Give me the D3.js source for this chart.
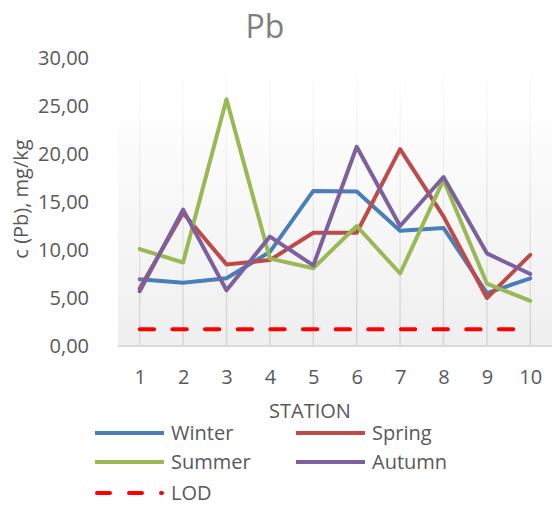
<!DOCTYPE html>
<html><head><meta charset="utf-8">
<script src="https://cdn.jsdelivr.net/npm/d3@7/dist/d3.min.js"></script>
<style>body{margin:0;background:#fff}svg{display:block}text{font-family:"Open Sans",sans-serif}</style>
</head><body><svg id="c" width="558" height="506"></svg>
<script>
const stations = ["1","2","3","4","5","6","7","8","9","10"];
const winter = [6.95, 6.6, 7.05, 9.8, 16.15, 16.1, 12.0, 12.3, 5.5, 7.05];
const spring = [6.0, 13.85, 8.5, 8.95, 11.8, 11.8, 20.5, 13.5, 5.0, 9.5];
const summer = [10.1, 8.7, 25.7, 9.1, 8.1, 12.5, 7.55, 17.3, 6.5, 4.7];
const autumn = [5.7, 14.2, 5.8, 11.4, 8.4, 20.75, 12.5, 17.6, 9.65, 7.5];
const lod = [1.75, 1.75, 1.75, 1.75, 1.75, 1.75, 1.75, 1.75, 1.75, 1.75];
const yTicks = [0, 5, 10, 15, 20, 25, 30];
const seriesNames = ["Winter", "Spring", "Summer", "Autumn", "LOD"];
const colors = ["#4A7EBB", "#BE4B48", "#98B954", "#7D60A0", "#FF0000"];
const series = [winter, spring, summer, autumn, lod];

const svg = d3.select("#c");
const L = 118, R = 552, T = 58, B = 346;
const x = d3.scalePoint().domain(stations).range([L, R]).padding(0.5);
const y = d3.scaleLinear().domain([0, 30]).range([B, T]);

const defs = svg.append("defs");
const g1 = defs.append("linearGradient").attr("id","bg").attr("x1",0).attr("y1",0).attr("x2",0).attr("y2",1);
g1.append("stop").attr("offset","0%").attr("stop-color","#FDFDFD");
g1.append("stop").attr("offset","100%").attr("stop-color","#EFEFEF");
const g2 = defs.append("linearGradient").attr("id","gl").attr("gradientUnits","userSpaceOnUse")
  .attr("x1",0).attr("y1",T).attr("x2",0).attr("y2",B);
g2.append("stop").attr("offset","0%").attr("stop-color","#FFFFFF");
g2.append("stop").attr("offset","100%").attr("stop-color","#D4D4D4");

svg.append("rect").attr("x",L).attr("y",122).attr("width",R-L).attr("height",B-122).attr("fill","url(#bg)");

// vertical gridlines
svg.append("g").selectAll("line").data(stations).join("line")
  .attr("x1",d=>x(d)).attr("x2",d=>x(d)).attr("y1",T).attr("y2",B)
  .attr("stroke","url(#gl)").attr("stroke-width",1.5);

// x axis line
svg.append("line").attr("x1",L).attr("x2",R).attr("y1",B).attr("y2",B).attr("stroke","#D9D9D9").attr("stroke-width",2);

// y axis labels
const yAxis = d3.axisLeft(y).tickValues(yTicks).tickSize(0).tickPadding(0)
  .tickFormat(d => d3.format(".2f")(d).replace(".", ","));
const ya = svg.append("g").attr("transform","translate(89,0)").call(yAxis);
ya.select(".domain").remove();
ya.selectAll("text").attr("font-size",20).attr("fill","#595959").attr("font-family","Open Sans");

// x axis labels
const xAxis = d3.axisBottom(x).tickSize(0).tickPadding(0);
const xa = svg.append("g").attr("transform",`translate(0,${B})`).call(xAxis);
xa.select(".domain").remove();
xa.selectAll("text").attr("font-size",20).attr("fill","#595959").attr("font-family","Open Sans").attr("dy",null).attr("y",38);

// lines
const line = d3.line().x((d,i)=>x(stations[i])).y(d=>y(d));
series.forEach((s,k)=>{
  const p = svg.append("path").datum(s).attr("d",line).attr("fill","none")
    .attr("stroke",colors[k]).attr("stroke-width",4).attr("stroke-linejoin","round").attr("stroke-linecap","round");
  if (k===4) p.attr("stroke-dasharray","14.4,18.25");
});

// title
svg.append("text").attr("x",265).attr("y",38).attr("text-anchor","middle").attr("font-size",32).attr("fill","#7F7F7F").text("Pb");
// axis titles
svg.append("text").attr("transform","translate(28,199) rotate(-90)").attr("text-anchor","middle").attr("font-size",20).attr("fill","#595959").text("c (Pb), mg/kg");
svg.append("text").attr("x",310).attr("y",418).attr("text-anchor","middle").attr("font-size",20).attr("fill","#595959").text("STATION");

// legend
const legPos = [[95,433],[296,433],[95,462],[296,462],[95,493]];
seriesNames.forEach((n,k)=>{
  const [lx,ly] = legPos[k];
  const ln = svg.append("line").attr("x1",lx).attr("x2",lx+69).attr("y1",ly).attr("y2",ly)
    .attr("stroke",colors[k]).attr("stroke-width",4);
  if (k===4) ln.attr("stroke-dasharray","13,19").attr("stroke-linecap","round").attr("x1",lx+2).attr("x2",lx+67);
  svg.append("text").attr("x",lx+76).attr("y",ly+7).attr("font-size",20).attr("fill","#595959").text(n);
});
</script></body></html>
